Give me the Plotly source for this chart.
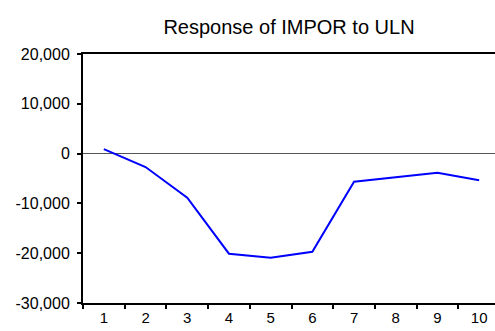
import plotly.graph_objects as go

periods = ["1", "2", "3", "4", "5", "6", "7", "8", "9", "10"]
response = [900, -2700, -8850, -20100, -20900, -19700, -5640, -4760, -3830, -5370]
y_tick_vals = [20000, 10000, 0, -10000, -20000, -30000]
y_tick_text = ["20,000", "10,000", "0", "-10,000", "-20,000", "-30,000"]
title_text = "Response of IMPOR to ULN"

font_family = "Liberation Sans, Arial, sans-serif"

fig = go.Figure()
fig.add_trace(go.Scatter(
    x=periods, y=response, mode="lines",
    line=dict(color="#0000FF", width=2),
    hoverinfo="skip", showlegend=False,
))

fig.update_layout(
    width=495, height=331,
    margin=dict(l=83, r=0, t=54, b=28, autoexpand=False),
    paper_bgcolor="white", plot_bgcolor="white",
    font=dict(family=font_family, color="black", size=16),
    title=dict(text=title_text, x=0.5, xref="paper", xanchor="center",
               y=1 - 27 / 331, yref="container", yanchor="middle",
               font=dict(size=20, family=font_family, color="black")),
    showlegend=False,
)

fig.update_xaxes(
    type="category", range=[-0.5, 9.38], automargin=False,
    tickson="boundaries", ticks="outside", ticklen=4, tickwidth=1.5, tickcolor="black",
    showline=True, linecolor="black", linewidth=2, mirror=True,
    showgrid=False, zeroline=False,
    tickfont=dict(size=15, family=font_family, color="black"),
)
fig.update_yaxes(
    range=[-30000, 20000], automargin=False,
    tickmode="array", tickvals=y_tick_vals, ticktext=y_tick_text,
    ticks="outside", ticklen=4, tickwidth=1.5, tickcolor="black",
    ticklabelstandoff=4,
    showline=True, linecolor="black", linewidth=2, mirror=False,
    showgrid=False,
    zeroline=True, zerolinecolor="#555555", zerolinewidth=1,
    tickfont=dict(size=16, family=font_family, color="black"),
)

fig.write_html(
    "out.html",
    config={"displayModeBar": False},
    post_script="document.body.style.margin='0px';document.body.style.overflow='hidden';",
)
